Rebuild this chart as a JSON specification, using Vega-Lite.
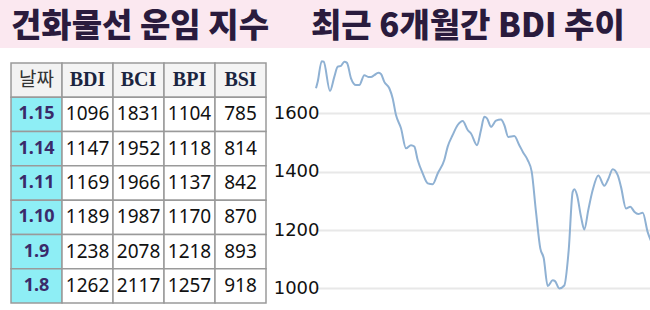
{
  "$schema": "https://vega.github.io/schema/vega-lite/v6.json",
  "padding": 0,
  "background": "white",
  "spacing": 7,
  "config": {"view": {"stroke": null}},
  "vconcat": [
    {
      "width": 650,
      "height": 48,
      "view": {"fill": "#fbe8f0", "stroke": null},
      "data": {"values": [
        {"part": "a", "t": "건화물선 운임 지수"},
        {"part": "b", "t": "최근 6개월간 BDI 추이"}
      ]},
      "mark": {"type": "text", "align": "left", "baseline": "middle", "font": "Noto Sans CJK KR", "fontWeight": 900, "fontSize": 33, "color": "#2a1b3d", "dy": 3},
      "encoding": {
        "x": {"field": "part", "type": "nominal", "bandPosition": 0, "axis": null,
              "scale": {"type": "band", "paddingInner": 0, "paddingOuter": 0.0833, "align": 0.22}},
        "text": {"field": "t"}
      }
    },
    {
      "spacing": 6,
      "hconcat": [
        {
          "width": 266,
          "height": 255,
          "data": {"values": [
            {"r": "head", "c": "날짜", "v": "날짜", "k": "hk"},
            {"r": "head", "c": "BDI", "v": "BDI", "k": "he"},
            {"r": "head", "c": "BCI", "v": "BCI", "k": "he"},
            {"r": "head", "c": "BPI", "v": "BPI", "k": "he"},
            {"r": "head", "c": "BSI", "v": "BSI", "k": "he"},
            {"r": "1.15", "c": "날짜", "v": "1.15", "k": "d"},
            {"r": "1.15", "c": "BDI", "v": "1096", "k": "v"},
            {"r": "1.15", "c": "BCI", "v": "1831", "k": "v"},
            {"r": "1.15", "c": "BPI", "v": "1104", "k": "v"},
            {"r": "1.15", "c": "BSI", "v": "785", "k": "v"},
            {"r": "1.14", "c": "날짜", "v": "1.14", "k": "d"},
            {"r": "1.14", "c": "BDI", "v": "1147", "k": "v"},
            {"r": "1.14", "c": "BCI", "v": "1952", "k": "v"},
            {"r": "1.14", "c": "BPI", "v": "1118", "k": "v"},
            {"r": "1.14", "c": "BSI", "v": "814", "k": "v"},
            {"r": "1.11", "c": "날짜", "v": "1.11", "k": "d"},
            {"r": "1.11", "c": "BDI", "v": "1169", "k": "v"},
            {"r": "1.11", "c": "BCI", "v": "1966", "k": "v"},
            {"r": "1.11", "c": "BPI", "v": "1137", "k": "v"},
            {"r": "1.11", "c": "BSI", "v": "842", "k": "v"},
            {"r": "1.10", "c": "날짜", "v": "1.10", "k": "d"},
            {"r": "1.10", "c": "BDI", "v": "1189", "k": "v"},
            {"r": "1.10", "c": "BCI", "v": "1987", "k": "v"},
            {"r": "1.10", "c": "BPI", "v": "1170", "k": "v"},
            {"r": "1.10", "c": "BSI", "v": "870", "k": "v"},
            {"r": "1.9", "c": "날짜", "v": "1.9", "k": "d"},
            {"r": "1.9", "c": "BDI", "v": "1238", "k": "v"},
            {"r": "1.9", "c": "BCI", "v": "2078", "k": "v"},
            {"r": "1.9", "c": "BPI", "v": "1218", "k": "v"},
            {"r": "1.9", "c": "BSI", "v": "893", "k": "v"},
            {"r": "1.8", "c": "날짜", "v": "1.8", "k": "d"},
            {"r": "1.8", "c": "BDI", "v": "1262", "k": "v"},
            {"r": "1.8", "c": "BCI", "v": "2117", "k": "v"},
            {"r": "1.8", "c": "BPI", "v": "1257", "k": "v"},
            {"r": "1.8", "c": "BSI", "v": "918", "k": "v"}
          ]},
          "encoding": {
            "x": {"field": "c", "type": "nominal", "axis": null,
                  "scale": {"domain": ["날짜", "BDI", "BCI", "BPI", "BSI"], "paddingInner": 0, "paddingOuter": 0.108, "align": 1}},
            "y": {"field": "r", "type": "nominal", "axis": null,
                  "scale": {"domain": ["head", "1.15", "1.14", "1.11", "1.10", "1.9", "1.8"], "paddingInner": 0, "paddingOuter": 0.219, "align": 0.533}}
          },
          "layer": [
            {
              "mark": {"type": "rect", "stroke": "#9a9a9a", "strokeWidth": 1.5},
              "encoding": {"fill": {"field": "k", "type": "nominal", "legend": null,
                "scale": {"domain": ["hk", "he", "d", "v"], "range": ["#f2f2f2", "#f4f4f4", "#8eeef5", "#ffffff"]}}}
            },
            {
              "transform": [{"filter": "datum.k == 'v'"}],
              "mark": {"type": "text", "font": "Noto Sans", "fontSize": 19, "color": "#111111"},
              "encoding": {"text": {"field": "v"}}
            },
            {
              "transform": [{"filter": "datum.k == 'd'"}],
              "mark": {"type": "text", "font": "Noto Sans", "fontWeight": "bold", "fontSize": 18, "color": "#3a2a6a"},
              "encoding": {"text": {"field": "v"}}
            },
            {
              "transform": [{"filter": "datum.k == 'he'"}],
              "mark": {"type": "text", "font": "Liberation Serif", "fontWeight": "bold", "fontSize": 20, "color": "#1b2540"},
              "encoding": {"text": {"field": "v"}}
            },
            {
              "transform": [{"filter": "datum.k == 'hk'"}],
              "mark": {"type": "text", "font": "Noto Sans CJK KR", "fontSize": 19, "color": "#333333"},
              "encoding": {"text": {"field": "v"}}
            }
          ]
        },
        {
          "width": 336,
          "height": 255,
          "data": {"values": [
            {"t": 1, "v": 1686}, {"t": 2.7, "v": 1708}, {"t": 6.7, "v": 1779}, {"t": 8.7, "v": 1777},
            {"t": 15, "v": 1677}, {"t": 19.3, "v": 1725}, {"t": 22.7, "v": 1760}, {"t": 26, "v": 1763},
            {"t": 29.3, "v": 1777}, {"t": 32, "v": 1773}, {"t": 36, "v": 1720}, {"t": 41, "v": 1697},
            {"t": 44.3, "v": 1697}, {"t": 49.3, "v": 1731}, {"t": 53.3, "v": 1725}, {"t": 56, "v": 1725},
            {"t": 59.3, "v": 1731}, {"t": 63.3, "v": 1739}, {"t": 66, "v": 1735}, {"t": 69.3, "v": 1708},
            {"t": 74.3, "v": 1686}, {"t": 77.7, "v": 1651}, {"t": 81, "v": 1594}, {"t": 86, "v": 1549},
            {"t": 91, "v": 1480}, {"t": 96, "v": 1491}, {"t": 99.3, "v": 1486}, {"t": 102.7, "v": 1440},
            {"t": 107.7, "v": 1394}, {"t": 112.7, "v": 1360}, {"t": 117.7, "v": 1357}, {"t": 122.7, "v": 1394},
            {"t": 129.3, "v": 1440}, {"t": 132.7, "v": 1486}, {"t": 137.7, "v": 1526}, {"t": 142.7, "v": 1560},
            {"t": 147.7, "v": 1574}, {"t": 152.7, "v": 1543}, {"t": 156, "v": 1531}, {"t": 162, "v": 1491},
            {"t": 166, "v": 1543}, {"t": 169.3, "v": 1588}, {"t": 172, "v": 1583}, {"t": 176, "v": 1554},
            {"t": 181, "v": 1575}, {"t": 186, "v": 1579}, {"t": 189.3, "v": 1560}, {"t": 193.3, "v": 1519},
            {"t": 199.3, "v": 1522}, {"t": 204.3, "v": 1491}, {"t": 208, "v": 1467}, {"t": 212.7, "v": 1440},
            {"t": 216.7, "v": 1400}, {"t": 221, "v": 1262}, {"t": 225.3, "v": 1137}, {"t": 228.7, "v": 1104},
            {"t": 232.7, "v": 1008}, {"t": 237.7, "v": 1028}, {"t": 240, "v": 1025}, {"t": 244.3, "v": 1000},
            {"t": 249.3, "v": 1010}, {"t": 253.7, "v": 1131}, {"t": 257.7, "v": 1331}, {"t": 259.5, "v": 1340},
            {"t": 262, "v": 1320}, {"t": 266, "v": 1246}, {"t": 269.3, "v": 1202}, {"t": 273.3, "v": 1269},
            {"t": 277.7, "v": 1337}, {"t": 283.3, "v": 1387}, {"t": 289.3, "v": 1352}, {"t": 293.3, "v": 1375},
            {"t": 297.7, "v": 1408}, {"t": 302.7, "v": 1388}, {"t": 306, "v": 1348}, {"t": 311, "v": 1274},
            {"t": 315.3, "v": 1280}, {"t": 319.3, "v": 1263}, {"t": 323.3, "v": 1255}, {"t": 327.7, "v": 1259},
            {"t": 332.7, "v": 1193}, {"t": 336, "v": 1162}
          ]},
          "mark": {"type": "line", "interpolate": "monotone", "color": "#8fb1d3", "strokeWidth": 2},
          "encoding": {
            "x": {"field": "t", "type": "quantitative", "axis": null, "scale": {"domain": [0, 336], "nice": false}},
            "y": {"field": "v", "type": "quantitative",
                  "scale": {"domain": [926, 1800], "nice": false, "zero": false},
                  "axis": {"title": null, "values": [1000, 1200, 1400, 1600], "format": "d", "domain": false, "ticks": false, "grid": true,
                           "gridColor": "#e8e8e8", "gridWidth": 2, "labelFont": "DejaVu Sans", "labelFontSize": 18,
                           "labelColor": "#111111", "labelPadding": -4, "labelBaseline": "middle", "labelFlush": false}}
          }
        }
      ]
    }
  ]
}
